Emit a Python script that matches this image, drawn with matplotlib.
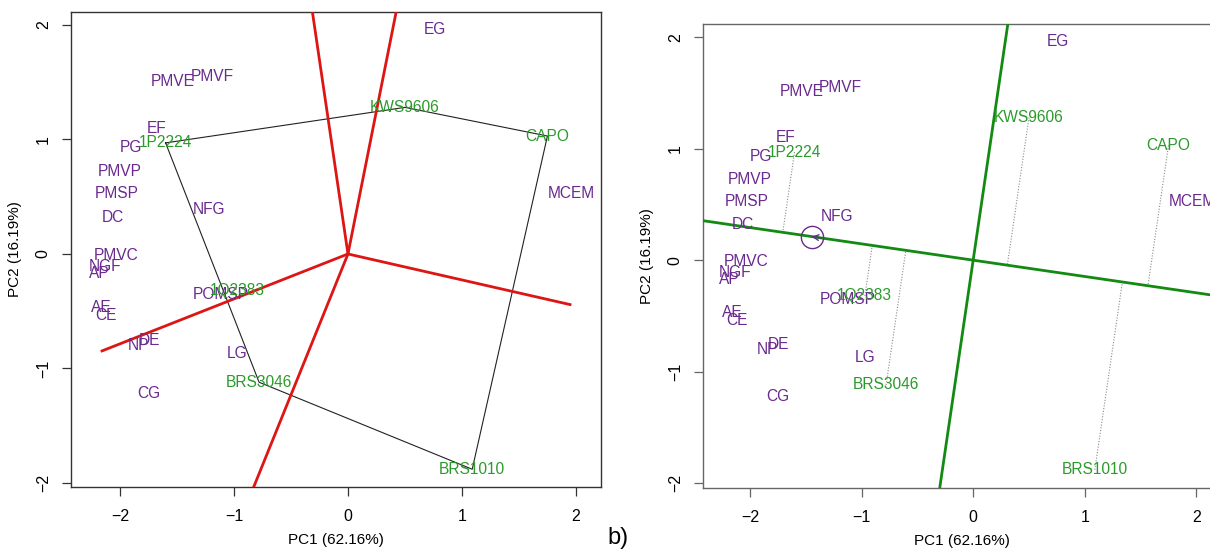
import numpy as np
import matplotlib.pyplot as plt

plt.rcParams['font.family'] = ['Liberation Sans', 'DejaVu Sans']

# genotypes (green) and environments (purple), PC1 / PC2 scores
gen_names = ['1P2224', 'KWS9606', 'CAPO', 'BRS1010', 'BRS3046', '1Q2383']
gen_pc1 = [-1.60, 0.50, 1.75, 1.09, -0.78, -0.97]
gen_pc2 = [0.97, 1.28, 1.03, -1.88, -1.12, -0.32]

env_names = ['EG', 'PMVE', 'PMVF', 'EF', 'PG', 'PMVP', 'PMSP', 'DC', 'NFG', 'PMVC',
             'NGF', 'AP', 'AE', 'CE', 'NP', 'DE', 'CG', 'POMSP', 'LG', 'MCEM']
env_pc1 = [0.76, -1.54, -1.19, -1.68, -1.90, -2.00, -2.03, -2.06, -1.22, -2.03,
           -2.13, -2.18, -2.16, -2.12, -1.84, -1.74, -1.75, -1.12, -0.97, 1.96]
env_pc2 = [1.96, 1.51, 1.55, 1.10, 0.93, 0.72, 0.53, 0.32, 0.39, -0.01,
           -0.11, -0.17, -0.47, -0.54, -0.80, -0.76, -1.22, -0.35, -0.87, 0.53]

# polygon vertices (which-won-where) and length of each sector ray
hull = ['1P2224', 'KWS9606', 'CAPO', 'BRS1010', 'BRS3046']
ray_len = [3.0, 3.0, 2.01, 3.0, 2.33]

ticks = [-2, -1, 0, 1, 2]
xlab = 'PC1 (62.16%)'
ylab = 'PC2 (16.19%)'

purple = '#6A2A8E'
green_txt = '#2A9A2A'
green_line = '#138A13'
red = '#DD1515'

gen = dict(zip(gen_names, zip(gen_pc1, gen_pc2)))


def style_axes(ax, spine_col):
    ax.set_xticks(ticks)
    ax.set_yticks(ticks)
    ax.tick_params(direction='out', length=6.5, width=0.9, color=spine_col,
                   labelsize=11.5, pad=9)
    ax.tick_params(axis='y', labelrotation=90, pad=8)
    for lab in ax.get_yticklabels():
        lab.set_va('center')
    for s in ax.spines.values():
        s.set_color(spine_col)
        s.set_linewidth(1.0)
    ax.set_xlabel(xlab, fontsize=11, labelpad=7)
    ax.set_ylabel(ylab, fontsize=11, labelpad=10)


def put_labels(ax):
    for n, x, y in zip(env_names, env_pc1, env_pc2):
        ax.text(x, y, n, color=purple, fontsize=11.2, ha='center', va='center', zorder=4)
    for n, x, y in zip(gen_names, gen_pc1, gen_pc2):
        ax.text(x, y, n, color=green_txt, fontsize=11.2, ha='center', va='center', zorder=4)


fig = plt.figure(figsize=(12.1, 5.51), dpi=100)

# ---- a) which-won-where polygon
ax1 = fig.add_axes([71 / 1210, 64 / 551, 530 / 1210, 475 / 551])
ax1.set_xlim(-2.43, 2.22)
ax1.set_ylim(-2.035, 2.113)

pts = np.array([gen[n] for n in hull])
closed = np.vstack([pts, pts[:1]])
ax1.plot(closed[:, 0], closed[:, 1], color='#222222', lw=0.8, zorder=2)

for i in range(len(pts)):
    p, q = pts[i], pts[(i + 1) % len(pts)]
    d = q - p
    nrm = np.array([-d[1], d[0]])
    nrm = nrm / np.linalg.norm(nrm)
    if np.dot(nrm, p) < 0:
        nrm = -nrm
    end = nrm * ray_len[i]
    ax1.plot([0, end[0]], [0, end[1]], color=red, lw=2.0, zorder=3,
             solid_capstyle='butt')

put_labels(ax1)
style_axes(ax1, '#333333')

# ---- b) mean vs stability
ax2 = fig.add_axes([703 / 1210, 63 / 551, 518 / 1210, 464 / 551])
ax2.set_xlim(-2.42, 2.22)
ax2.set_ylim(-2.045, 2.12)

ae = np.array([np.mean(env_pc1), np.mean(env_pc2)])
u = ae / np.linalg.norm(ae)
v = np.array([-u[1], u[0]])
L = 6
ax2.plot([-L * u[0], L * u[0]], [-L * u[1], L * u[1]], color=green_line, lw=2.0, zorder=3)
ax2.plot([-L * v[0], L * v[0]], [-L * v[1], L * v[1]], color=green_line, lw=2.0, zorder=3)

for x, y in zip(gen_pc1, gen_pc2):
    g = np.array([x, y])
    pr = np.dot(g, u) * u
    ax2.plot([x, pr[0]], [y, pr[1]], color='#8a8a8a', lw=0.8, ls=(0, (1, 1.5)), zorder=2)

ax2.plot(ae[0], ae[1], 'o', ms=16, mfc='none', mec=purple, mew=1.0, zorder=5)
ax2.annotate('', xy=(ae[0], ae[1]), xytext=(ae[0] - 0.09 * u[0], ae[1] - 0.09 * u[1]),
             arrowprops=dict(arrowstyle='->', color=purple, lw=1.0,
                             mutation_scale=10, shrinkA=0, shrinkB=0), zorder=5)

put_labels(ax2)
style_axes(ax2, '#666666')

fig.text(618 / 1210, 1 - 538 / 551, 'b)', fontsize=17, ha='center', va='center')

fig.savefig('out.png', dpi=100)
